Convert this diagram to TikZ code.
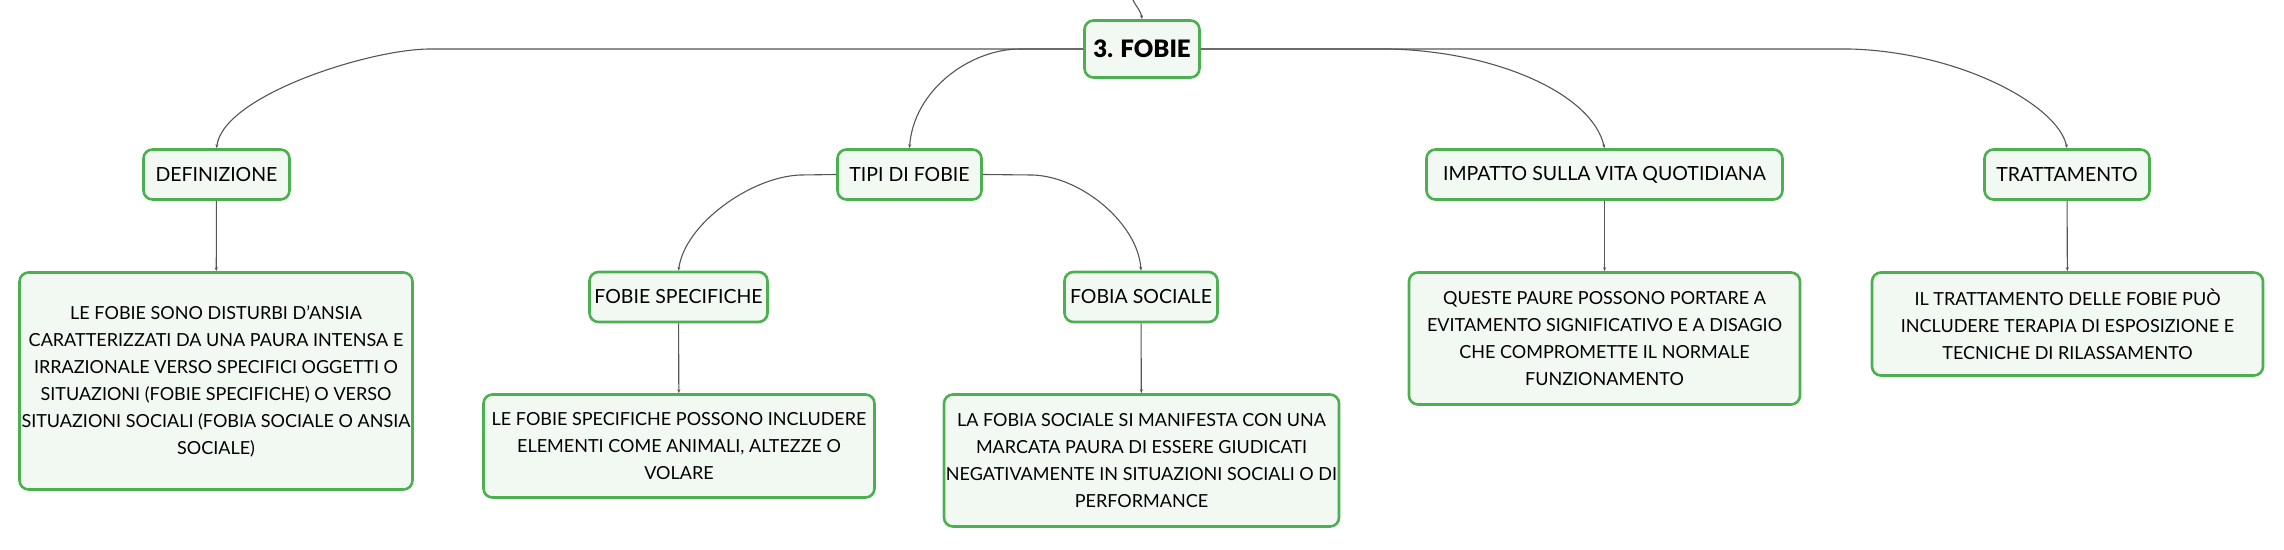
\documentclass[tikz,border=0pt]{standalone}
\usepackage{fontspec}
\setmainfont{Lato}
\newfontfamily\rootfont{Lato Black}
\usetikzlibrary{arrows.meta}
\definecolor{boxgreen}{RGB}{76,175,80}
\definecolor{boxfill}{RGB}{242,249,243}
\definecolor{linkgray}{RGB}{85,85,85}
\begin{document}
\begin{tikzpicture}[x=1pt,y=-1pt,
    box/.style={draw=boxgreen,fill=boxfill,line width=2.6pt,rounded corners=9pt,inner sep=2pt,align=center},
    topic/.style={box,minimum height=50pt,font=\fontsize{19.5}{22}\selectfont},
    note/.style={box,minimum width=391pt,font=\fontsize{18}{27}\selectfont},
    link/.style={draw=linkgray,line width=1.1pt,-{Stealth[length=4pt,width=3pt]}}]
  \useasboundingbox (0,0) rectangle (2284,549);
  \node[box,minimum width=115pt,minimum height=57pt,font=\fontsize{24}{28}\rootfont] (root) at (1142,49) {3. FOBIE};
  \node[topic,minimum width=146pt] (def) at (216.5,174.5) {DEFINIZIONE};
  \node[topic,minimum width=144pt] (tipi) at (909.5,174.5) {TIPI DI FOBIE};
  \node[topic,minimum width=356pt] (imp) at (1604.5,174.5) {IMPATTO SULLA VITA QUOTIDIANA};
  \node[topic,minimum width=165pt] (tratt) at (2067,174.5) {TRATTAMENTO};
  \node[topic,minimum width=178pt] (spec) at (678.5,297) {FOBIE SPECIFICHE};
  \node[topic,minimum width=153pt] (soc) at (1141,297) {FOBIA SOCIALE};
  \node[note,minimum height=217pt] (deftxt) at (216,381) {LE FOBIE SONO DISTURBI D'ANSIA\\CARATTERIZZATI DA UNA PAURA INTENSA E\\IRRAZIONALE VERSO SPECIFICI OGGETTI O\\SITUAZIONI (FOBIE SPECIFICHE) O VERSO\\SITUAZIONI SOCIALI (FOBIA SOCIALE O ANSIA\\SOCIALE)};
  \node[note,minimum height=103pt] (spectxt) at (679,446) {LE FOBIE SPECIFICHE POSSONO INCLUDERE\\ELEMENTI COME ANIMALI, ALTEZZE O\\VOLARE};
  \node[note,minimum height=132pt] (soctxt) at (1141.5,460.5) {LA FOBIA SOCIALE SI MANIFESTA CON UNA\\MARCATA PAURA DI ESSERE GIUDICATI\\NEGATIVAMENTE IN SITUAZIONI SOCIALI O DI\\PERFORMANCE};
  \node[note,minimum height=132pt] (imptxt) at (1604.5,338.5) {QUESTE PAURE POSSONO PORTARE A\\EVITAMENTO SIGNIFICATIVO E A DISAGIO\\CHE COMPROMETTE IL NORMALE\\FUNZIONAMENTO};
  \node[note,minimum height=103pt] (tratttxt) at (2067.5,324) {IL TRATTAMENTO DELLE FOBIE PUÒ\\INCLUDERE TERAPIA DI ESPOSIZIONE E\\TECNICHE DI RILASSAMENTO};
  \coordinate (up) at (1133,0);
  \coordinate (jdef) at (430,49);
  \coordinate (jtipi) at (1020,49);
  \coordinate (jimp) at (1390,49);
  \coordinate (jtratt) at (1850,49);
  \coordinate (jspec) at (800,175);
  \coordinate (jsoc) at (1033,175);
  \draw[link] (up) .. controls +(4,8) and +(-1,-8) .. (root.north);
  \draw[link] (root.west) -- (jdef) .. controls +(-60,0) and +(7,-53) .. (def.north);
  \draw[link] (root.west) -- (jtipi) .. controls +(-50,0) and +(4,-58) .. (tipi.north);
  \draw[link] (root.east) -- (jimp) .. controls +(110,3) and +(-12,-53) .. (imp.north);
  \draw[link] (root.east) -- (jtratt) .. controls +(110,3) and +(-9,-43) .. (tratt.north);
  \draw[link] (tipi.west) -- (jspec) .. controls +(-50,2) and +(6,-46) .. (spec.north);
  \draw[link] (tipi.east) -- (jsoc) .. controls +(50,2) and +(-3,-46) .. (soc.north);
  \foreach \a/\b in {def/deftxt,spec/spectxt,soc/soctxt,imp/imptxt,tratt/tratttxt}
    \draw[link] (\a) -- (\b);
\end{tikzpicture}
\end{document}
